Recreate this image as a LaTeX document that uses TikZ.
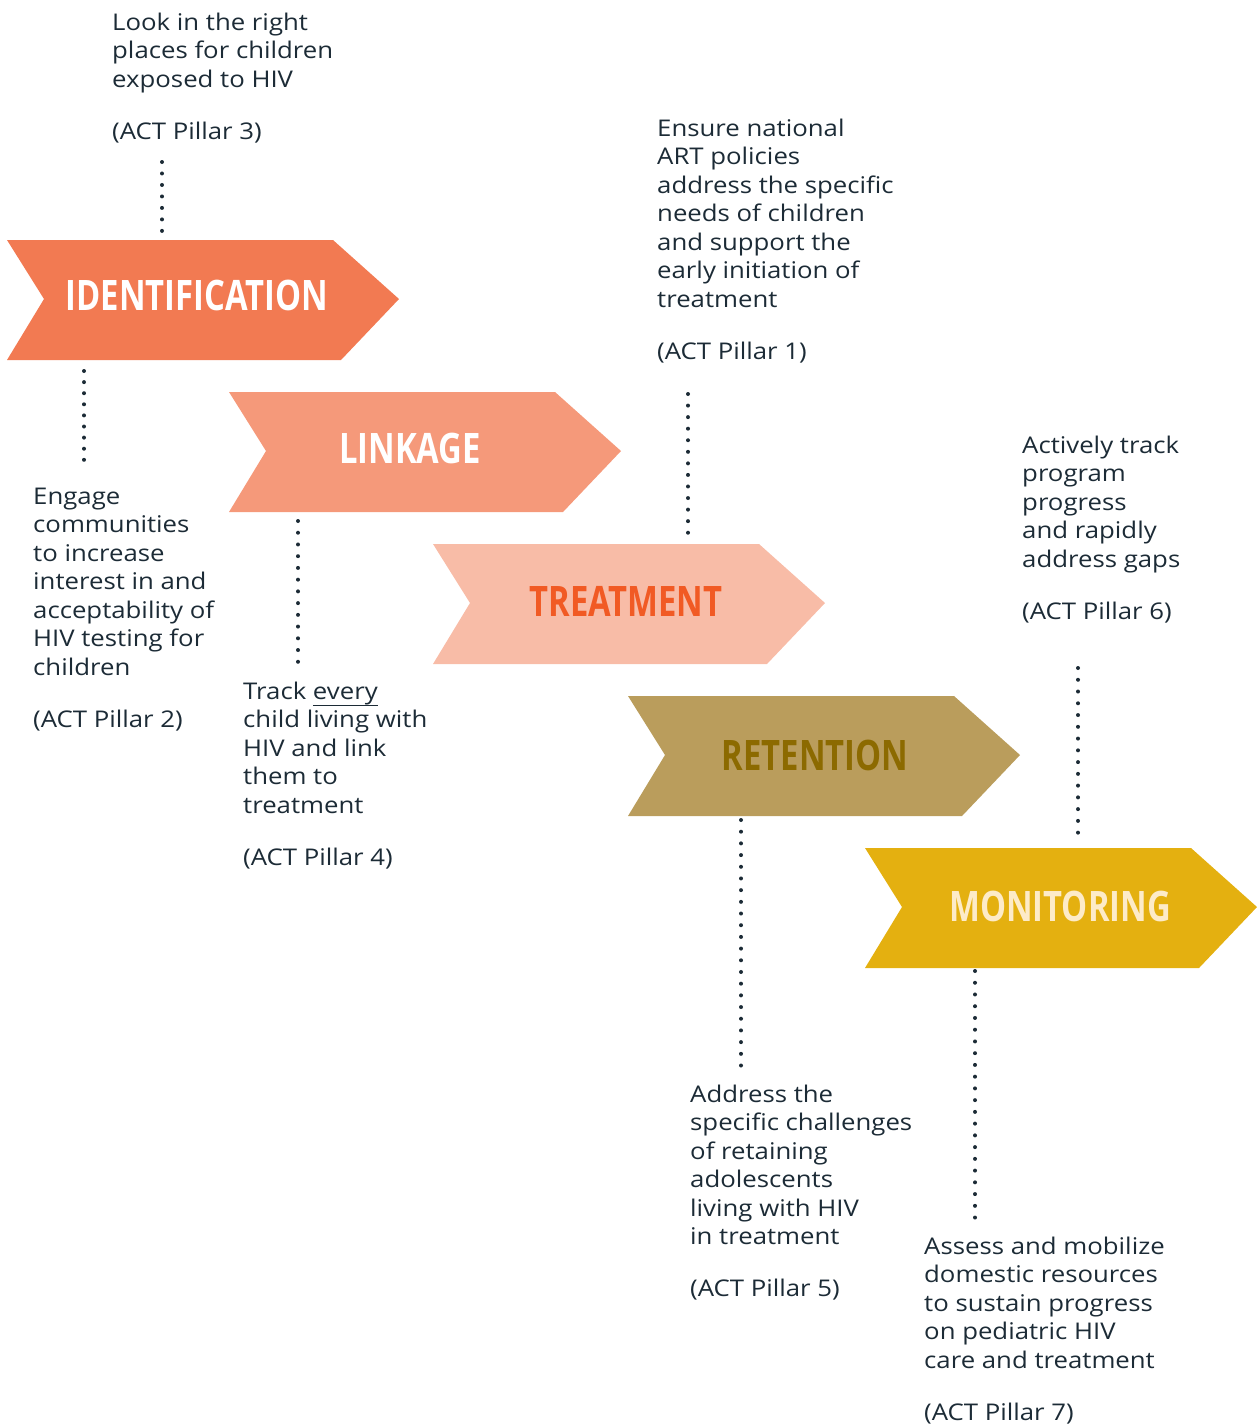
\documentclass[tikz,border=0pt]{standalone}
\usepackage{fontspec}
\setmainfont[FakeStretch=1.12]{Open Sans}
\newfontfamily\headfont[FakeStretch=0.78]{Open Sans}
\definecolor{txt}{HTML}{1C2B36}
\definecolor{cId}{HTML}{F27A52}
\definecolor{cLi}{HTML}{F5997A}
\definecolor{cTr}{HTML}{F8BCA7}
\definecolor{tTr}{HTML}{F15A24}
\definecolor{cRe}{HTML}{BA9D5C}
\definecolor{tRe}{HTML}{8C6A00}
\definecolor{cMo}{HTML}{E4B010}
\definecolor{tMo}{HTML}{FDEBC8}
\newcommand\myul[1]{{\setbox0\hbox{#1}\rlap{\rule[-6.7pt]{\wd0}{1.3pt}}\box0}}
\tikzset{
  chevron/.pic={\fill[pic actions] (0,0) -- (326,0) -- (392,59) -- (334,120) -- (0,120) -- (37,59) -- cycle;},
  head/.style={font=\headfont\bfseries\fontsize{42}{46}\selectfont, inner sep=0pt, anchor=base},
  body/.style={font=\fontsize{23}{28.5}\selectfont, text=txt, align=left, inner sep=0pt, anchor=north west},
  dots/.style={draw=txt, line width=4pt, line cap=round, dash pattern=on 0pt off #1}
}
\begin{document}
\begin{tikzpicture}[x=1pt,y=-1pt]
\useasboundingbox (0,0) rectangle (1258,1428);
% chevrons
\pic[fill=cId] at (7,240) {chevron};
\pic[fill=cLi] at (229,392) {chevron};
\pic[fill=cTr] at (433,544) {chevron};
\pic[fill=cRe] at (628,696) {chevron};
\pic[fill=cMo] at (865,848) {chevron};
\node[head, text=white] (id) at (197,310) {IDENTIFICATION};
\node[head, text=white] (li) at (410,463) {LINKAGE};
\node[head, text=tTr] (tr) at (626,616) {TREATMENT};
\node[head, text=tRe] (re) at (815,770) {RETENTION};
\node[head, text=tMo] (mo) at (1060,921) {MONITORING};
% text blocks
\node[body] (p3) at (112,12.5) {Look in the right\\places for children\\exposed to HIV\\[23.5pt](ACT Pillar 3)};
\node[body] (p1) at (657,118.5) {Ensure national\\ART policies\\address the specific\\needs of children\\and support the\\early initiation of\\treatment\\[23.5pt](ACT Pillar 1)};
\node[body] (p2) at (33,487.5) {Engage\\communities\\to increase\\interest in and\\acceptability of\\HIV testing for\\children\\[23.5pt](ACT Pillar 2)};
\node[body] (p4) at (243,681.5) {Track \myul{every}\\child living with\\HIV and link\\them to\\treatment\\[23.5pt](ACT Pillar 4)};
\node[body] (p6) at (1022,435.5) {Actively track\\program\\progress\\and rapidly\\address gaps\\[23.5pt](ACT Pillar 6)};
\node[body] (p5) at (690,1084.5) {Address the\\specific challenges\\of retaining\\adolescents\\living with HIV\\in treatment\\[23.5pt](ACT Pillar 5)};
\node[body] (p7) at (924,1236.5) {Assess and mobilize\\domestic resources\\to sustain progress\\on pediatric HIV\\care and treatment\\[23.5pt](ACT Pillar 7)};
% dotted connectors
\coordinate (a1) at (162,162); \coordinate (b1) at (162,231);
\coordinate (a2) at (84,371);  \coordinate (b2) at (84,460);
\coordinate (a3) at (298,521); \coordinate (b3) at (298,662);
\coordinate (a4) at (688,394); \coordinate (b4) at (688,533);
\coordinate (a5) at (1078,668); \coordinate (b5) at (1078,833);
\coordinate (a6) at (741,820); \coordinate (b6) at (741,1066);
\coordinate (a7) at (975,971); \coordinate (b7) at (975,1218);
\draw[dots=11.48pt] (a1) -- (b1);
\draw[dots=11.1pt] (a2) -- (b2);
\draw[dots=11.73pt] (a3) -- (b3);
\draw[dots=11.56pt] (a4) -- (b4);
\draw[dots=11.76pt] (a5) -- (b5);
\draw[dots=11.69pt] (a6) -- (b6);
\draw[dots=11.74pt] (a7) -- (b7);
\end{tikzpicture}
\end{document}
